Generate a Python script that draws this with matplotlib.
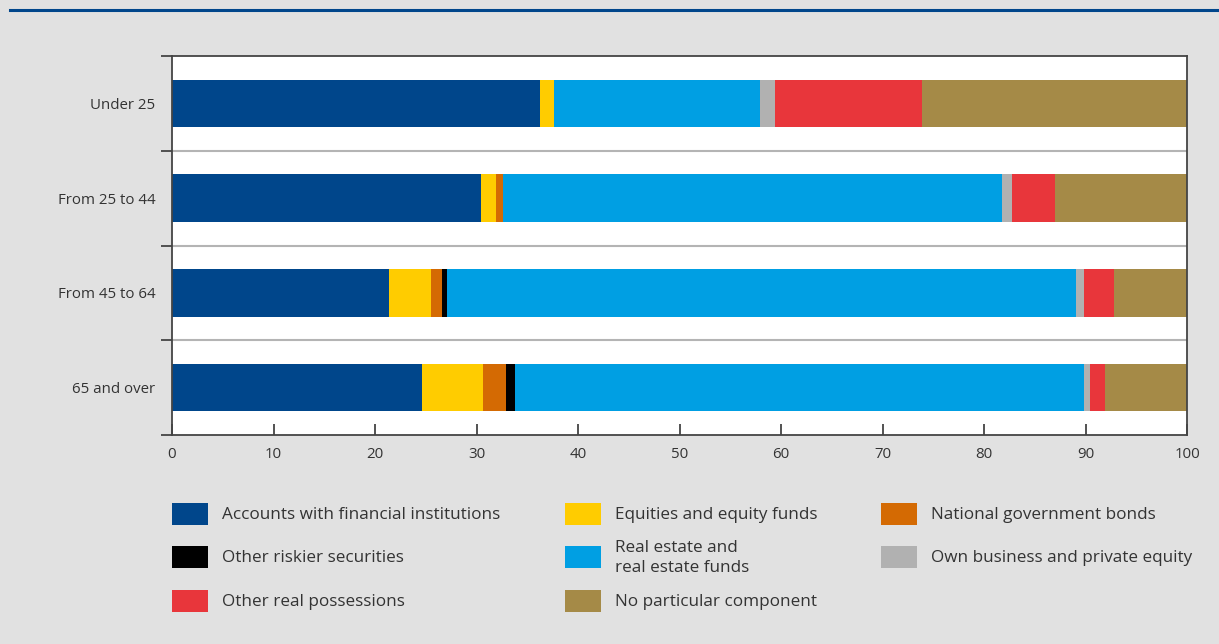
import numpy as np
import matplotlib.pyplot as plt
from matplotlib.lines import Line2D
from matplotlib.patches import Rectangle

plt.rcParams['font.family'] = ['Open Sans', 'DejaVu Sans']

W, H = 1219, 644

# age groups, top to bottom
groups = ['Under 25', 'From 25 to 44', 'From 45 to 64', '65 and over']

# share of each component (percent), one value per age group
accounts = [36.3, 30.4, 21.4, 24.6]
equities = [1.3, 1.5, 4.1, 6.0]
gov_bonds = [0.0, 0.7, 1.1, 2.3]
riskier = [0.0, 0.0, 0.5, 0.9]
real_estate = [20.3, 49.2, 62.0, 56.1]
own_business = [1.5, 1.0, 0.8, 0.5]
real_poss = [14.5, 4.2, 2.9, 1.5]
no_component = [26.1, 13.0, 7.2, 8.1]

series = [
    ('Accounts with financial institutions', accounts, '#00468b'),
    ('Equities and equity funds', equities, '#ffcc00'),
    ('National government bonds', gov_bonds, '#d46a03'),
    ('Other riskier securities', riskier, '#000000'),
    ('Real estate and\nreal estate funds', real_estate, '#009fe3'),
    ('Own business and private equity', own_business, '#b1b1b1'),
    ('Other real possessions', real_poss, '#e8363b'),
    ('No particular component', no_component, '#a58a47'),
]

fig = plt.figure(figsize=(W / 100, H / 100), dpi=100, facecolor='#e1e1e1')
ax = fig.add_axes([172 / W, 1 - 435 / H, 1015 / W, 379 / H])
ax.set_facecolor('white')

y = np.arange(len(groups))
left = np.zeros(len(groups))
colors = {}
for name, vals, col in series:
    vals = np.array(vals)
    ax.barh(y, vals, left=left, height=0.5, color=col, linewidth=0)
    colors[name] = col
    left += vals

ax.set_xlim(0, 100)
ax.set_ylim(3.5, -0.5)
ax.set_xticks(np.arange(0, 101, 10))
ax.set_yticks(y)
ax.set_yticklabels(groups)
ax.set_yticks(np.arange(-0.5, 3.6, 1), minor=True)

# separators between the groups
for b in [0.5, 1.5, 2.5]:
    ax.axhline(b, color='#b4b4b4', lw=1.5, zorder=0)

ax.tick_params(axis='x', direction='in', length=8, width=1.3, color='#444444',
               labelsize=10.8, labelcolor='#333333', pad=9)
ax.tick_params(axis='y', which='major', length=0, labelsize=10.8,
               labelcolor='#333333', pad=12)
ax.tick_params(axis='y', which='minor', direction='out', length=8, width=1.3,
               color='#444444')
for s in ax.spines.values():
    s.set_color('#444444')
    s.set_linewidth(1.3)

# legend: three columns, filled column by column
legend_cols = [
    (172, ['Accounts with financial institutions', 'Other riskier securities',
           'Other real possessions']),
    (565, ['Equities and equity funds', 'Real estate and\nreal estate funds',
           'No particular component']),
    (881, ['National government bonds', 'Own business and private equity']),
]
row_y = [514, 557, 601]
for x0, names in legend_cols:
    for name, yc in zip(names, row_y):
        fig.add_artist(Rectangle((x0 / W, 1 - (yc + 11) / H), 36 / W, 22 / H,
                                 facecolor=colors[name], edgecolor='none',
                                 transform=fig.transFigure))
        fig.text((x0 + 50) / W, 1 - (yc + 1) / H, name, fontsize=12.3,
                 color='#333333', va='center', ha='left', linespacing=1.4)

# blue rule along the top
fig.add_artist(Line2D([10 / W, 1.0], [1 - 10 / H, 1 - 10 / H],
                      color='#00468b', lw=2.2))

fig.savefig('out.png', dpi=100, facecolor=fig.get_facecolor())
